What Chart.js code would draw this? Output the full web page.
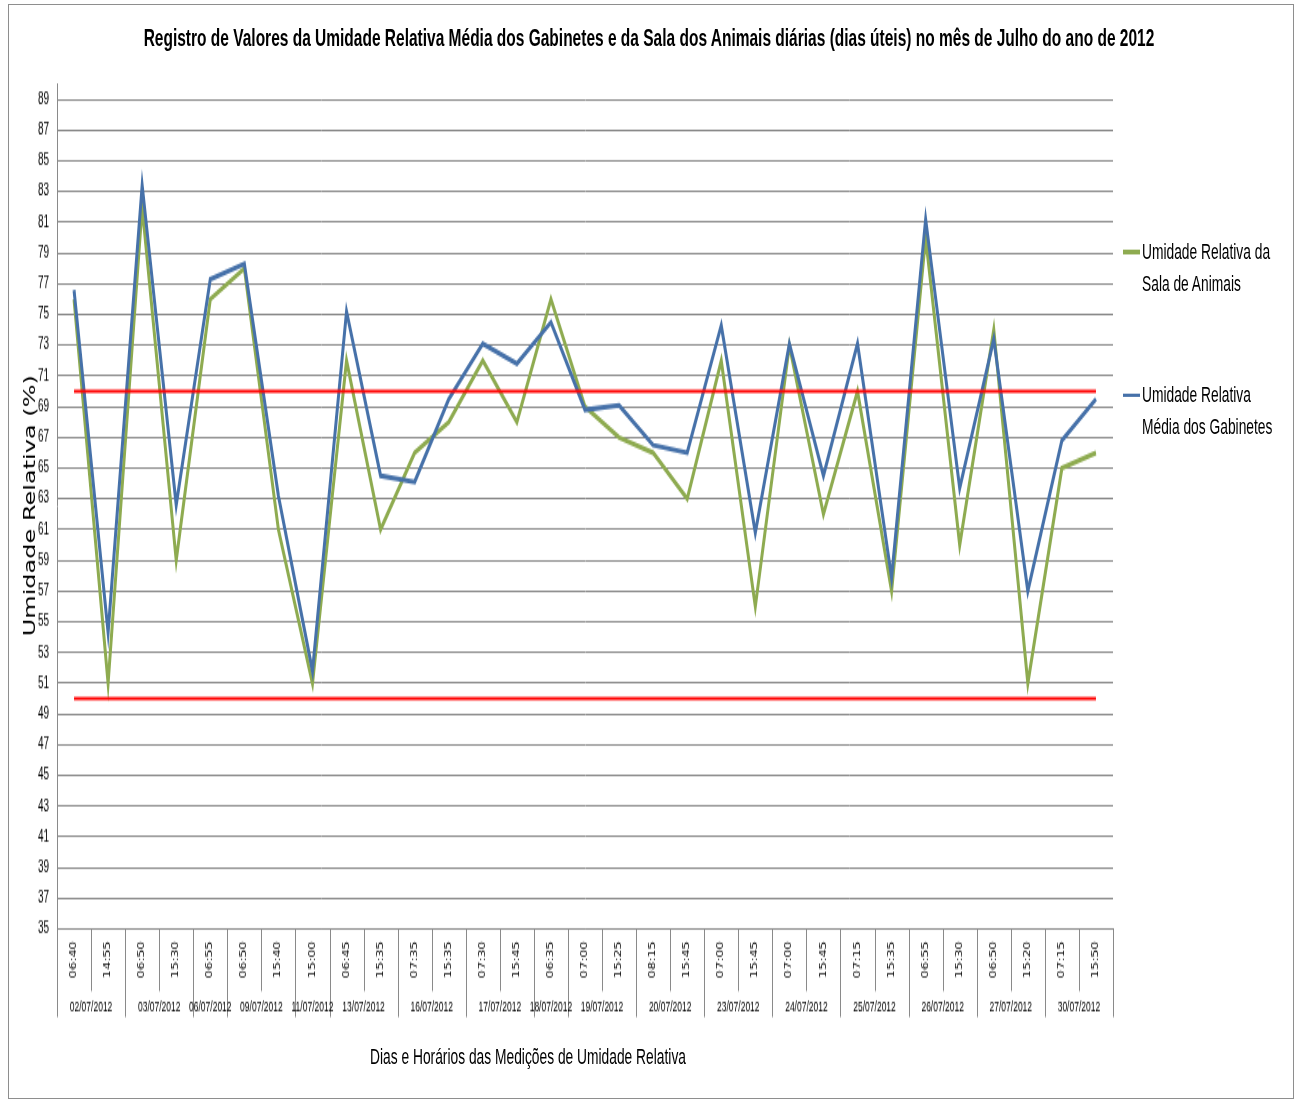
<!DOCTYPE html>
<html lang="pt-BR">
<head>
<meta charset="utf-8">
<title>Umidade Relativa - Julho 2012</title>
<script src="https://cdn.jsdelivr.net/npm/chart.js@4.4.1/dist/chart.umd.min.js"></script>
<style>
html,body{margin:0;padding:0;background:#fff;width:1298px;height:1101px;overflow:hidden;}
#frame{position:absolute;left:8px;top:4px;width:1286px;height:1095px;border:1px solid #8e8e8e;box-sizing:border-box;}
#stage{position:absolute;left:0;top:0;width:1298px;height:688px;transform:scaleY(1.6003);transform-origin:0 0;}
#c{position:absolute;left:0;top:0;}
.txt{position:absolute;font-family:'Liberation Sans',Arial,sans-serif;color:#000;white-space:nowrap;}
#title{left:0;width:1298px;text-align:center;top:14.25px;font-size:15.5px;font-weight:bold;line-height:19px;}
#xtitle{left:0;width:1056px;text-align:center;top:652.6px;font-size:13.8px;line-height:16px;}
#ytitle{left:-120px;width:300px;top:305.6px;height:20px;line-height:20px;text-align:center;font-family:'DejaVu Sans',Verdana,sans-serif;font-size:15px;transform:rotate(-90deg);transform-origin:50% 50%;}
.leg{position:absolute;left:1123px;width:160px;font-family:'Liberation Sans',Arial,sans-serif;font-size:13.8px;line-height:20px;color:#000;}
.leg .sw{position:absolute;left:0;top:8.75px;width:17px;height:2.5px;}
.leg .tx{margin-left:19px;width:140px;white-space:normal;}
</style>
</head>
<body>
<div id="frame"></div>
<div id="stage">
  <canvas id="c" width="1298" height="688"></canvas>
  <div id="title" class="txt"></div>
  <div id="ytitle" class="txt"></div>
  <div id="xtitle" class="txt"></div>
  <div id="legend"></div>
</div>
<script>
// ---- data ----
const chartTitle = 'Registro de Valores da Umidade Relativa Média dos Gabinetes e da Sala dos Animais diárias (dias úteis) no mês de Julho do ano de 2012';
const yAxisTitle = 'Umidade Relativa (%)';
const xAxisTitle = 'Dias e Horários das Medições de Umidade Relativa';

const times = ['06:40','14:55','06:50','15:30','06:55','06:50','15:40','15:00','06:45','15:35',
               '07:35','15:35','07:30','15:45','06:35','07:00','15:25','08:15','15:45','07:00',
               '15:45','07:00','15:45','07:15','15:35','06:55','15:30','06:50','15:20','07:15','15:50'];
const dates = ['02/07/2012','02/07/2012','03/07/2012','03/07/2012','06/07/2012','09/07/2012','09/07/2012',
               '11/07/2012','13/07/2012','13/07/2012','16/07/2012','16/07/2012','17/07/2012','17/07/2012',
               '18/07/2012','19/07/2012','19/07/2012','20/07/2012','20/07/2012','23/07/2012','23/07/2012',
               '24/07/2012','24/07/2012','25/07/2012','25/07/2012','26/07/2012','26/07/2012','27/07/2012',
               '27/07/2012','30/07/2012','30/07/2012'];

const salaAnimais = [76, 51, 82, 59, 76, 78, 61, 51, 72, 61, 66, 68, 72, 68, 76, 69, 67, 66, 63, 72,
                     56, 73, 62, 70, 57, 80, 60, 74, 51, 65, 66];
const gabinetes   = [76.6, 54.3, 83.4, 62.6, 77.3, 78.3, 63.2, 51.8, 75.2, 64.5, 64.1, 69.5, 73.1, 71.8, 74.5, 68.8,
                     69.1, 66.5, 66.0, 74.3, 60.8, 73.1, 64.5, 73.1, 57.9, 81.2, 63.7, 73.4, 57.0, 66.8, 69.5];
const limiteSuperior = 70;
const limiteInferior = 50;

const yTicks = [35,37,39,41,43,45,47,49,51,53,55,57,59,61,63,65,67,69,71,73,75,77,79,81,83,85,87,89];
const yMin = 35, yMax = 90;

const seriesNames = ['Umidade Relativa da Sala de Animais', 'Umidade Relativa Média dos Gabinetes'];
const seriesColors = ['#8EAB50', '#4671A9'];
const limitColor = '#FF0000';
const gridColor = '#8a8a8a';

// ---- texts ----
document.getElementById('title').textContent = chartTitle;
document.getElementById('ytitle').textContent = yAxisTitle;
document.getElementById('xtitle').textContent = xAxisTitle;
const legendTops = [147.5, 236.9];
const legend = document.getElementById('legend');
seriesNames.forEach((name, i) => {
  const d = document.createElement('div');
  d.className = 'leg';
  d.style.top = legendTops[i] + 'px';
  d.innerHTML = '<span class="sw" style="background:' + seriesColors[i] + '"></span><div class="tx"></div>';
  d.querySelector('.tx').textContent = name;
  legend.appendChild(d);
});

// ---- date group axis (second level of category labels) ----
const groupAxis = {
  id: 'groupAxis',
  afterDraw(chart) {
    const xs = chart.scales.x, ctx = chart.ctx, area = chart.chartArea;
    const n = times.length;
    const w = xs.getPixelForValue(1) - xs.getPixelForValue(0);
    const shortEnd = area.bottom + 38.8;
    const longEnd = area.bottom + 55;
    ctx.save();
    ctx.strokeStyle = gridColor;
    ctx.lineWidth = 1;
    for (let i = 0; i <= n; i++) {
      const x = Math.round(xs.getPixelForValue(0) - w / 2 + i * w) + 0.5;
      const isGroup = i === 0 || i === n || dates[i] !== dates[i - 1];
      ctx.beginPath();
      ctx.moveTo(x, area.bottom);
      ctx.lineTo(x, isGroup ? longEnd : shortEnd);
      ctx.stroke();
    }
    ctx.font = '8.5px "Liberation Sans", Arial, sans-serif';
    ctx.fillStyle = '#000';
    ctx.textAlign = 'center';
    ctx.textBaseline = 'middle';
    let s = 0;
    for (let i = 1; i <= n; i++) {
      if (i === n || dates[i] !== dates[s]) {
        const cx = (xs.getPixelForValue(s) + xs.getPixelForValue(i - 1)) / 2;
        ctx.fillText(dates[s], cx, area.bottom + 48.8);
        s = i;
      }
    }
    ctx.restore();
  }
};

const firstLabel = times[0], lastLabel = times[times.length - 1];
new Chart(document.getElementById('c'), {
  type: 'line',
  data: {
    labels: times,
    datasets: [
      { label: 'Limite superior', data: [{x: firstLabel, y: limiteSuperior}, {x: lastLabel, y: limiteSuperior}],
        borderColor: limitColor, borderWidth: 2, pointRadius: 0, order: 0 },
      { label: 'Limite inferior', data: [{x: firstLabel, y: limiteInferior}, {x: lastLabel, y: limiteInferior}],
        borderColor: limitColor, borderWidth: 2, pointRadius: 0, order: 0 },
      { label: seriesNames[1], data: gabinetes, borderColor: seriesColors[1], borderWidth: 3,
        pointRadius: 0, tension: 0, order: 1 },
      { label: seriesNames[0], data: salaAnimais, borderColor: seriesColors[0], borderWidth: 3,
        pointRadius: 0, tension: 0, order: 2 }
    ]
  },
  options: {
    responsive: false,
    animation: false,
    events: [],
    layout: { padding: { top: 52.5, left: 0, right: 185, bottom: 57.4 } },
    plugins: { legend: { display: false }, title: { display: false }, tooltip: { enabled: false } },
    scales: {
      x: {
        type: 'category',
        offset: true,
        grid: { display: false, drawTicks: false },
        border: { display: true, color: gridColor },
        ticks: {
          autoSkip: false, minRotation: 90, maxRotation: 90, padding: 7.5,
          color: '#000', font: { family: "'DejaVu Sans', Verdana, sans-serif", size: 8 }
        },
        afterFit(scale) { scale.height = 50; }
      },
      y: {
        min: yMin, max: yMax,
        afterBuildTicks(scale) { scale.ticks = yTicks.map(v => ({ value: v })); },
        grid: { color: gridColor, lineWidth: 1, drawTicks: false },
        border: { display: true, color: gridColor },
        ticks: { padding: 8, color: '#000', font: { family: "'Liberation Sans', Arial, sans-serif", size: 10 } },
        afterFit(scale) { scale.width = 57; }
      }
    }
  },
  plugins: [groupAxis]
});
</script>
</body>
</html>
